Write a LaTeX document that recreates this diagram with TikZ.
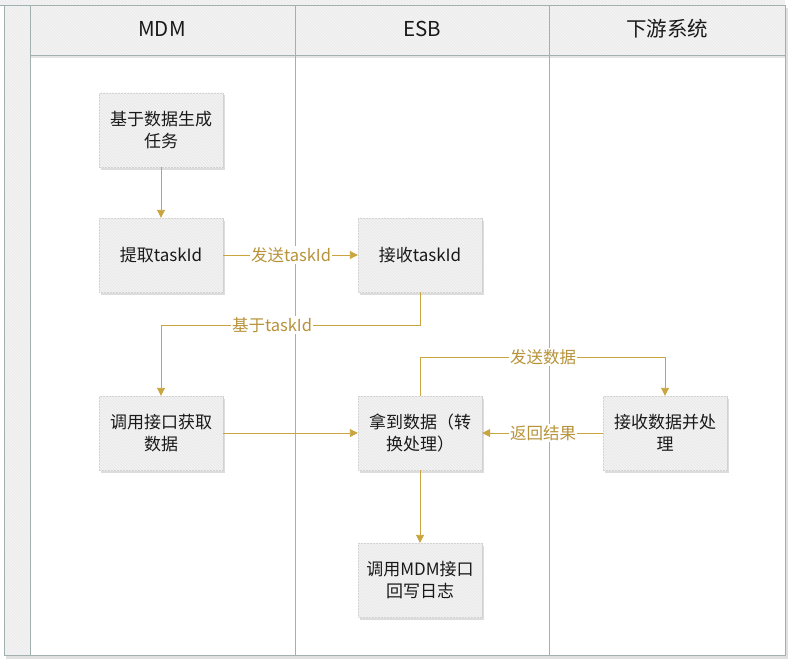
\documentclass[tikz,border=0pt]{standalone}
\usepackage{fontspec}
\setmainfont{Noto Sans CJK SC}
\usetikzlibrary{arrows.meta,shadows,patterns}
\definecolor{lane}{HTML}{A3B0B0}
\definecolor{hdr}{HTML}{EDEDED}
\definecolor{boxfill}{HTML}{EBEBEB}
\definecolor{boxline}{HTML}{D0D0D0}
\definecolor{flow}{HTML}{C9A53F}
\definecolor{flowtxt}{HTML}{B7933A}
\tikzset{
  stripes/.style={postaction={pattern=north west lines, pattern color=white!55!boxfill}},
  stepbox/.style={draw=boxline, fill=boxfill, minimum width=124pt, minimum height=74pt,
    align=center, font=\fontsize{17}{22}\selectfont, text=black!90, stripes,
    drop shadow={shadow xshift=2pt, shadow yshift=-2.5pt, fill=black!30, opacity=0.45}},
  flowline/.style={draw=flow, line width=0.9pt, -{Triangle[width=8pt,length=8pt]}},
  flowlabel/.style={fill=white, text=flowtxt, font=\fontsize{16.5}{18}\selectfont, inner sep=1pt},
  header/.style={font=\fontsize{20.5}{24}\selectfont, text=black!90},
  laneline/.style={draw=lane, line width=0.9pt}
}
\begin{document}
\begin{tikzpicture}[x=1pt,y=-1pt]
\useasboundingbox (0,0) rectangle (791,663);
\fill[white] (0,0) rectangle (791,663);
% pool shadow
\fill[black!12] (6,655) rectangle (787,659);
\fill[black!12] (785,8) rectangle (788,659);
% top strip
\fill[hdr, stripes] (0,0) rectangle (785,5);
% left strip
\path[fill=hdr, stripes] (4,5) rectangle (30,655);
% header row
\path[fill=hdr, stripes] (30,5) rectangle (785,55);
\fill[black!10] (30,55) rectangle (785,58);
% frame lines
\draw[laneline] (0,5) -- (785,5);
\draw[laneline] (4,5) rectangle (785,655);
\draw[laneline] (30,5) -- (30,655);
\draw[laneline] (30,55) -- (785,55);
\draw[laneline] (295,5) -- (295,655);
\draw[laneline] (549,5) -- (549,655);
% headers
\node[header] (h1) at (162,29) {MDM};
\node[header] (h2) at (422,29) {ESB};
\node[header] (h3) at (667,29) {下游系统};
% boxes
\node[stepbox] (n1) at (161,130) {基于数据生成\\任务};
\node[stepbox] (n2) at (161,255) {提取taskId};
\node[stepbox] (n3) at (420,255) {接收taskId};
\node[stepbox] (n4) at (161,433) {调用接口获取\\数据};
\node[stepbox] (n5) at (420,433) {拿到数据（转\\换处理）};
\node[stepbox] (n6) at (665,433) {接收数据并处\\理};
\node[stepbox] (n7) at (420,580) {调用MDM接口\\回写日志};
% waypoints
\coordinate (a1) at (420,325);
\coordinate (a2) at (161,325);
\coordinate (b1) at (420,357);
\coordinate (b2) at (665,357);
% connectors
\draw[flowline] (n1) -- (n2);
\draw[flowline] (n2) -- (n3);
\draw[flowline] (n3.south) -- (a1) -- (a2) -- (n4.north);
\draw[flowline] (n4) -- (n5);
\draw[flowline] (n5.north) -- (b1) -- (b2) -- (n6.north);
\draw[flowline] (n6) -- (n5);
\draw[flowline] (n5) -- (n7);
% labels
\node[flowlabel] (l1) at (291,255) {发送taskId};
\node[flowlabel] (l2) at (272,325) {基于taskId};
\node[flowlabel] (l3) at (543,357) {发送数据};
\node[flowlabel] (l4) at (543,433) {返回结果};
\end{tikzpicture}
\end{document}
